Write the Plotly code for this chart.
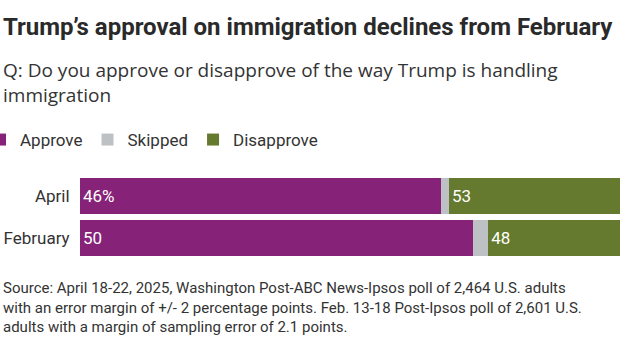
import plotly.graph_objects as go

categories = ["April", "February"]
approve = [46, 50]
skipped = [1, 2]
disapprove = [53, 48]
approve_labels = ["46%", "50"]
disapprove_labels = ["53", "48"]

title = "Trump’s approval on immigration declines from February"
subtitle = ("Q: Do you approve or disapprove of the way Trump is handling<br>"
            "immigration")
source = ("Source: April 18-22, 2025, Washington Post-ABC News-Ipsos poll of 2,464 U.S. adults<br>"
          "with an error margin of +/- 2 percentage points. Feb. 13-18 Post-Ipsos poll of 2,601 U.S.<br>"
          "adults with a margin of sampling error of 2.1 points.")

PURPLE = "#862278"
GRAY = "#BDC1C4"
GREEN = "#657A2E"
FONT = "Roboto"

W, H = 620, 350
ML, MR, MT, MB = 80, 0, 175, 91
PW = W - ML - MR
PH = H - MT - MB


def px(x):
    return (x - ML) / PW


def py(y):
    return (H - MB - y) / PH


fig = go.Figure()
fig.add_trace(go.Bar(
    y=categories, x=approve, name="Approve", orientation="h",
    marker=dict(color=PURPLE, line=dict(width=0)),
    text=approve_labels, textposition="inside", insidetextanchor="start",
    textfont=dict(color="white", size=17, family=FONT), hoverinfo="skip",
))
fig.add_trace(go.Bar(
    y=categories, x=skipped, name="Skipped", orientation="h",
    marker=dict(color=GRAY, line=dict(width=0)), hoverinfo="skip",
))
fig.add_trace(go.Bar(
    y=categories, x=disapprove, name="Disapprove", orientation="h",
    marker=dict(color=GREEN, line=dict(width=0)),
    text=disapprove_labels, textposition="inside", insidetextanchor="start",
    textfont=dict(color="white", size=17, family=FONT), hoverinfo="skip",
))

fig.update_layout(
    width=W, height=H,
    margin=dict(l=ML, r=MR, t=MT, b=MB, pad=0, autoexpand=False),
    barmode="stack", bargap=0.12,
    plot_bgcolor="white", paper_bgcolor="white",
    font=dict(family=FONT, color="#333333"),
    showlegend=True,
    legend=dict(
        orientation="h", xref="paper", yref="paper",
        x=px(-20), y=py(140), xanchor="left", yanchor="middle",
        font=dict(size=17, color="#333333", family=FONT),
        traceorder="normal", itemclick=False, itemdoubleclick=False,
        bgcolor="rgba(0,0,0,0)",
    ),
    xaxis=dict(range=[0, PW / 7.85], showgrid=False, zeroline=False,
               showticklabels=False, showline=False, fixedrange=True),
    yaxis=dict(autorange="reversed", showgrid=False, zeroline=False, showline=False,
               ticks="outside", ticklen=6, tickcolor="rgba(0,0,0,0)",
               tickfont=dict(size=17, color="#333333", family=FONT), fixedrange=True),
    annotations=[
        dict(text=title, xref="paper", yref="paper", x=px(1), y=py(11),
             xanchor="left", yanchor="top", showarrow=False, align="left",
             font=dict(size=24, color="#2a2a2a", family=FONT, weight="bold")),
        dict(text=subtitle, xref="paper", yref="paper", x=px(1), y=py(55),
             xanchor="left", yanchor="top", showarrow=False, align="left",
             font=dict(size=19, color="#333333", family="Open Sans")),
        dict(text=source, xref="paper", yref="paper", x=px(1), y=py(277),
             xanchor="left", yanchor="top", showarrow=False, align="left",
             font=dict(size=15, color="#333333", family=FONT)),
    ],
)

fig.write_html("out.html", config={"displayModeBar": False})
